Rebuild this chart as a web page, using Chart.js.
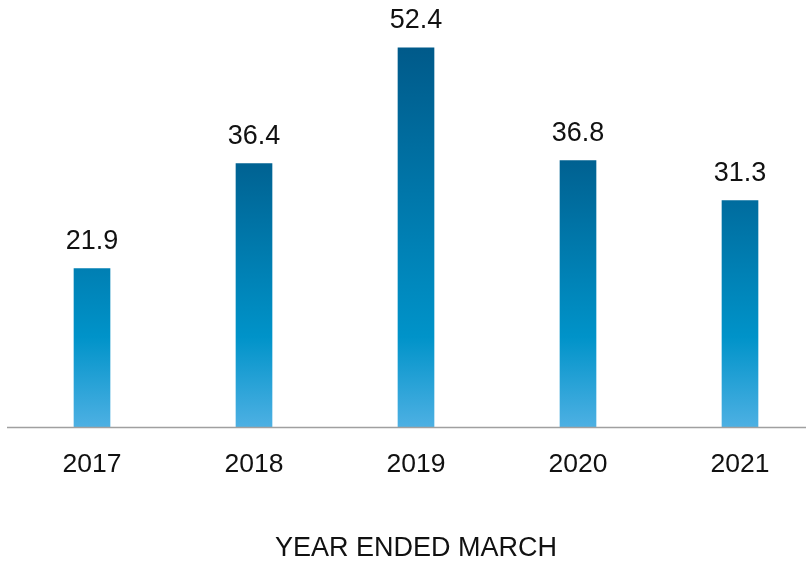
<!DOCTYPE html>
<html>
<head>
<meta charset="utf-8">
<script src="https://cdn.jsdelivr.net/npm/chart.js@4/dist/chart.umd.min.js"></script>
<style>
  html, body { margin: 0; padding: 0; background: #fff; overflow: hidden; }
  #wrap { width: 821px; height: 566px; }
</style>
</head>
<body>
<div id="wrap"><canvas id="chartFunding"></canvas></div>
<script>
// Dữ liệu biểu đồ
const years = ['2017', '2018', '2019', '2020', '2021'];
const amounts = [21.9, 36.4, 52.4, 36.8, 31.3];
const axisTitle = 'YEAR ENDED MARCH';

const FONT = "'Liberation Sans', Arial, Helvetica, sans-serif";

function mix(a, b, t) {
    const r = Math.round(a[0] + (b[0] - a[0]) * t);
    const g = Math.round(a[1] + (b[1] - a[1]) * t);
    const bl = Math.round(a[2] + (b[2] - a[2]) * t);
    return 'rgb(' + r + ',' + g + ',' + bl + ')';
}

const light = [77, 176, 227];
const bright = [0, 147, 201];
const dark = [0, 90, 138];

// Tô màu chuyển sắc cho từng cột
function barGradient(context) {
    const chart = context.chart;
    if (!chart.chartArea || context.dataIndex === undefined) return 'rgb(0,147,201)';
    const y = chart.scales.y;
    const base = y.getPixelForValue(0);
    const top = y.getPixelForValue(amounts[context.dataIndex]);
    const midY = base - 90;
    const g = chart.ctx.createLinearGradient(0, top, 0, base);
    if (top >= midY) {
        g.addColorStop(0, mix(light, bright, (base - top) / 90));
        g.addColorStop(1, mix(light, light, 0));
        return g;
    }
    const t = Math.min(1, (midY - top) / 200);
    const h = base - top;
    g.addColorStop(0, mix(bright, dark, t));
    g.addColorStop((midY - top) / h, mix(bright, bright, 0));
    g.addColorStop(1, mix(light, light, 0));
    return g;
}

// Nhãn giá trị trên đầu cột và đường trục
const valueLabels = {
    id: 'valueLabels',
    afterDatasetsDraw(chart) {
        const ctx = chart.ctx;
        const meta = chart.getDatasetMeta(0);
        ctx.save();
        ctx.fillStyle = '#111';
        ctx.font = '27px ' + FONT;
        ctx.textAlign = 'center';
        ctx.textBaseline = 'middle';
        meta.data.forEach((bar, i) => {
            ctx.fillText(amounts[i].toFixed(1), bar.x, bar.y - 27);
        });
        const yb = chart.scales.y.getPixelForValue(0);
        ctx.strokeStyle = '#a0a0a0';
        ctx.lineWidth = 1.5;
        ctx.beginPath();
        ctx.moveTo(7, yb + 0.5);
        ctx.lineTo(chart.width, yb + 0.5);
        ctx.stroke();
        ctx.restore();
    }
};

const canvas = document.getElementById('chartFunding');
const ctx = canvas.getContext('2d');

const myChart = new Chart(ctx, {
    type: 'bar',
    data: {
        labels: years,
        datasets: [{
            data: amounts,
            backgroundColor: barGradient,
            barThickness: 36,
            borderWidth: 0
        }]
    },
    options: {
        responsive: true,
        maintainAspectRatio: false,
        animation: false,
        layout: { padding: { left: 11, right: 0, top: 0, bottom: 0 } },
        plugins: {
            legend: { display: false },
            tooltip: { enabled: false }
        },
        scales: {
            x: {
                grid: { display: false },
                border: { display: false },
                ticks: {
                    color: '#111',
                    font: { family: FONT, size: 26.5 },
                    padding: 14
                },
                title: {
                    display: true,
                    text: axisTitle,
                    color: '#111',
                    font: { family: FONT, size: 27 },
                    padding: { top: 40, bottom: 1 }
                },
                afterFit(scale) { scale.height = 139; }
            },
            y: {
                display: false,
                min: 0,
                max: 59
            }
        }
    },
    plugins: [valueLabels]
});
</script>
</body>
</html>
